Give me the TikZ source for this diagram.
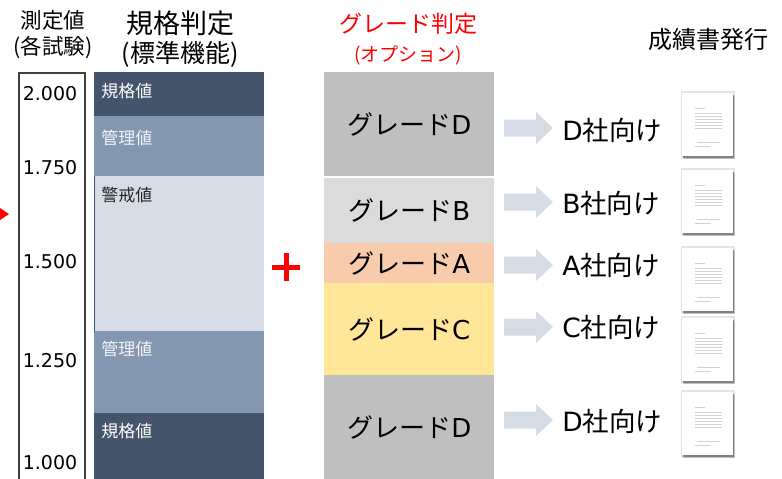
\documentclass[tikz,border=0pt]{standalone}
\usepackage{fontspec}
\setmainfont{DejaVu Sans}
\newfontfamily\cjk{Noto Sans CJK JP}
\usetikzlibrary{shadows}
\definecolor{navy}{RGB}{68,84,106}
\definecolor{steel}{RGB}{132,151,176}
\definecolor{pale}{RGB}{214,220,229}
\definecolor{gradeD}{RGB}{191,191,191}
\definecolor{gradeB}{RGB}{219,219,219}
\definecolor{gradeA}{RGB}{248,203,173}
\definecolor{gradeC}{RGB}{255,230,153}
\begin{document}
\begin{tikzpicture}[x=1pt,y=-1pt,semithick]
  \tikzstyle{head}=[anchor=center, text=black, inner sep=0pt, align=center]
  \tikzstyle{val}=[anchor=center, text=black, inner sep=0pt, font=\fontsize{19}{19}\selectfont]
  \tikzstyle{band}=[anchor=north west, draw=none, inner sep=0pt, minimum width=170pt]
  \tikzstyle{lab}=[anchor=north west, inner sep=0pt, font=\cjk\fontsize{17}{17}\selectfont]
  \tikzstyle{grade}=[anchor=north west, draw=none, inner sep=0pt, minimum width=170pt, text=black, font=\fontsize{26}{26}\selectfont]
  \tikzstyle{firm}=[anchor=west, inner sep=0pt, text=black, font=\fontsize{26.5}{27}\selectfont]
  \tikzstyle{sheet}=[anchor=north west, fill=white, draw=none, inner sep=0pt, minimum width=51pt, minimum height=63pt,
    general shadow={fill=black!10, shadow scale=1.07},
    general shadow={fill=black!25, shadow xshift=1.5pt, shadow yshift=-2.2pt},
    general shadow={fill=black!50, shadow xshift=0.8pt, shadow yshift=-1.2pt}]
  \tikzstyle{rule}=[draw=black!18, line width=0.5pt]
  \tikzset{blockarrow/.pic={\fill[pale] (0,-8.5) -- (32,-8.5) -- (32,-16) -- (49,0) -- (32,16) -- (32,8.5) -- (0,8.5) -- cycle;}}

  \useasboundingbox (0,0) rectangle (782,479);

  % headings
  \node[head,font=\cjk\fontsize{21.5}{26}\selectfont] (h1) at (53,35)   {測定値\\(各試験)};
  \node[head] (h2) at (180,23)  {\cjk\fontsize{27}{27}\selectfont 規格判定};
  \node[head] (h3) at (180,54)  {\cjk\fontsize{25}{25}\selectfont (標準機能)};
  \node[head,text=red] (h4) at (408,24) {\cjk\fontsize{23}{23}\selectfont グレード判定};
  \node[head,text=red] (h5) at (408,55) {\cjk\fontsize{19}{19}\selectfont (オプション)};
  \node[head] (h6) at (708,39)  {\cjk\fontsize{24}{24}\selectfont 成績書発行};

  % scale
  \draw[black!75,line width=1.2pt] (19,479) -- (19,73) -- (85,73) -- (85,479);
  \node[val] (v1) at (50,94)  {2.000};
  \node[val] (v2) at (50,168) {1.750};
  \node[val] (v3) at (50,262) {1.500};
  \node[val] (v4) at (50,361) {1.250};
  \node[val] (v5) at (50,463) {1.000};
  \fill[red] (0,208) -- (9,214) -- (0,220) -- cycle;

  % standard bands
  \node[band,fill=navy,minimum height=44pt]  (s1) at (94,72)  {};
  \node[band,fill=steel,minimum height=60pt] (s2) at (94,116) {};
  \node[band,fill=pale,minimum height=155pt] (s3) at (94,176) {};
  \node[band,fill=steel,minimum height=82pt] (s4) at (94,331) {};
  \node[band,fill=navy,minimum height=66pt]  (s5) at (94,413) {};
  \draw[navy,line width=0.6pt] (s3.north west) -- (s3.south west);
  \node[lab,text=white]       (l1) at (101,83)  {規格値};
  \node[lab,text=white!90!steel] (l2) at (101,130) {管理値};
  \node[lab,text=black!85]    (l3) at (101,187) {警戒値};
  \node[lab,text=white!90!steel] (l4) at (101,341) {管理値};
  \node[lab,text=white]       (l5) at (101,423) {規格値};

  % plus
  \fill[red] (283.5,253) rectangle (288.5,281);
  \fill[red] (272,264.5) rectangle (300,269.5);

  % grades
  \node[grade,fill=gradeD,minimum height=104pt] (D1) at (324,72)  {{\cjk グレード}D};
  \node[grade,fill=gradeB,minimum height=65pt]  (B)  at (324,178) {{\cjk グレード}B};
  \node[grade,fill=gradeA,minimum height=40pt]  (A)  at (324,243) {{\cjk グレード}A};
  \node[grade,fill=gradeC,minimum height=92pt]  (C)  at (324,283) {{\cjk グレード}C};
  \node[grade,fill=gradeD,minimum height=104pt] (D2) at (324,375) {{\cjk グレード}D};

  % arrows
  \pic (a1) at (504,128) {blockarrow};
  \pic (a2) at (504,202) {blockarrow};
  \pic (a3) at (504,265) {blockarrow};
  \pic (a4) at (504,327) {blockarrow};
  \pic (a5) at (504,420) {blockarrow};

  % firms
  \node[firm] (f1) at (562,130) {D{\cjk 社向け}};
  \node[firm] (f2) at (562,203) {B{\cjk 社向け}};
  \node[firm] (f3) at (562,265) {A{\cjk 社向け}};
  \node[firm] (f4) at (562,327) {C{\cjk 社向け}};
  \node[firm] (f5) at (562,421) {D{\cjk 社向け}};

  % sheets
  \foreach \name/\ypos in {p1/93,p2/170,p3/248,p4/318,p5/392}{
    \node[sheet] (\name) at (682,\ypos) {};
    \draw[rule] ([xshift=13pt,yshift=-15pt]\name.north west) -- ([xshift=23pt,yshift=-15pt]\name.north west);
    \foreach \off in {20,23,26,29,32,35}
      \draw[rule] ([xshift=13pt,yshift=-\off pt]\name.north west) -- ([xshift=40pt,yshift=-\off pt]\name.north west);
    \draw[rule] ([xshift=15pt,yshift=-49pt]\name.north west) -- ([xshift=38pt,yshift=-49pt]\name.north west);
    \draw[rule] ([xshift=13pt,yshift=-53pt]\name.north west) -- ([xshift=29pt,yshift=-53pt]\name.north west);
  }
\end{tikzpicture}
\end{document}
